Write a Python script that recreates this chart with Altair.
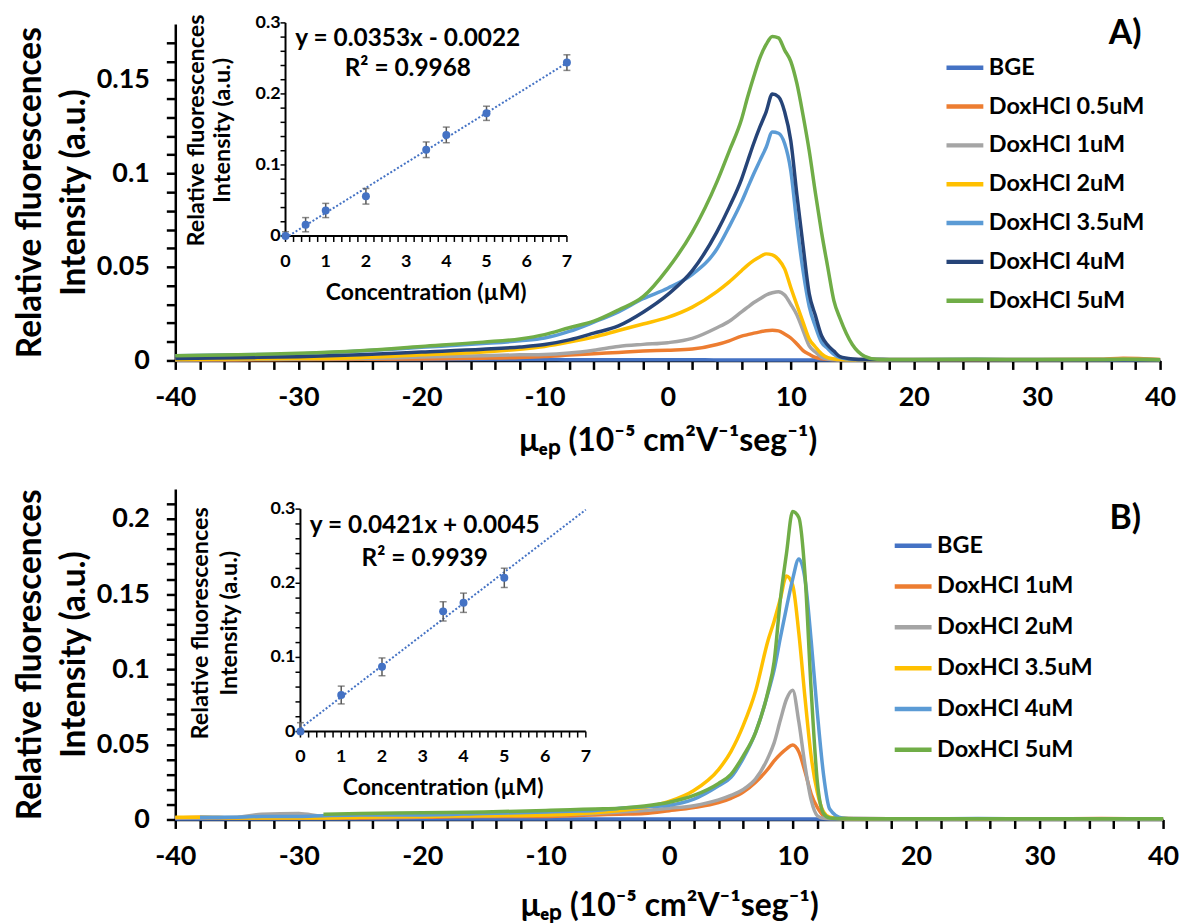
import altair as alt
import pandas as pd

FONT = "Lato"
BLUE = "#4472C4"
X_TITLE = "μₑₚ (10⁻⁵ cm²V⁻¹seg⁻¹)"
Y_TITLE = ["Relative fluorescences", "Intensity (a.u.)"]

# ---------------- Panel A : electropherograms ----------------
A_SERIES = ["BGE", "DoxHCl 0.5uM", "DoxHCl 1uM", "DoxHCl 2uM", "DoxHCl 3.5uM", "DoxHCl 4uM", "DoxHCl 5uM"]
A_COLORS = ["#4472C4", "#ED7D31", "#A5A5A5", "#FFC000", "#5B9BD5", "#264478", "#70AD47"]
A_MU = [-40, -35, -30, -25, -20, -15, -12, -10, -8, -6, -4, -2,
        0, 2, 4, 5, 6,
        6.5, 7, 7.5, 8, 8.5, 9, 9.5, 10, 10.5, 11, 11.5, 12, 12.5, 13, 13.5, 14,
        15, 16, 17, 18, 20, 25, 30, 35, 37, 40]
A_BGE = [0.0008, 0.0007, 0.0006, 0.0006, 0.0005, 0.0005, 0.0005, 0.0005, 0.0004, 0.0004, 0.0004, 0.0004,
         0.0004, 0.0004, 0.0003, 0.0003, 0.0003,
         0.0003, 0.0003, 0.0003, 0.0003, 0.0003, 0.0003, 0.0003, 0.0003, 0.0003, 0.0003, 0.0003, 0.0003, 0.0003, 0.0003, 0.0003, 0.0003,
         0.0003, 0.0003, 0.0003, 0.0003, 0.0004, 0.0004, 0.0004, 0.0004, 0.0004, 0.0004]
A_05 = [0.0002, 0.0003, 0.0005, 0.0006, 0.0008, 0.0012, 0.0016, 0.0021, 0.0029, 0.0036, 0.0043, 0.005,
        0.0055, 0.0061, 0.0085, 0.0105, 0.013,
        0.0138, 0.0146, 0.0153, 0.0159, 0.0161, 0.0158, 0.0142, 0.012, 0.0088, 0.0053, 0.0033, 0.0016, 0.0009, 0.0006, 0.0005, 0.0005,
        0.0005, 0.0005, 0.0005, 0.0005, 0.0005, 0.0005, 0.0005, 0.0006, 0.0012, 0.0005]
A_1 = [0.0003, 0.0005, 0.0008, 0.001, 0.0018, 0.0025, 0.003, 0.0032, 0.004, 0.0055, 0.0075, 0.0086,
       0.0095, 0.0118, 0.0175, 0.021, 0.026,
       0.0285, 0.031, 0.033, 0.035, 0.0362, 0.0368, 0.035, 0.030, 0.0243, 0.016, 0.0078, 0.0045, 0.0017, 0.0008, 0.0005, 0.0004,
       0.0004, 0.0004, 0.0004, 0.0004, 0.0004, 0.0004, 0.0004, 0.0004, 0.0004, 0.0004]
A_2 = [0.0005, 0.0008, 0.001, 0.0015, 0.003, 0.0045, 0.006, 0.0075, 0.0098, 0.0125, 0.016, 0.0195,
       0.023, 0.0285, 0.0368, 0.042, 0.048,
       0.051, 0.0535, 0.0555, 0.057, 0.0565, 0.054, 0.049, 0.039, 0.0296, 0.0204, 0.0115, 0.0072, 0.0035, 0.0015, 0.0008, 0.0005,
       0.0004, 0.0004, 0.0004, 0.0004, 0.0004, 0.0004, 0.0004, 0.0005, 0.0008, 0.0004]
A_35 = [0.0025, 0.003, 0.0035, 0.005, 0.007, 0.009, 0.0105, 0.012, 0.0155, 0.0205, 0.026, 0.033,
        0.0386, 0.046, 0.0596, 0.0716, 0.0848,
        0.0924, 0.100, 0.107, 0.114, 0.1222, 0.1215, 0.116, 0.1015, 0.0725, 0.0478, 0.0288, 0.0182, 0.0097, 0.0064, 0.0033, 0.0015,
        0.0006, 0.0005, 0.0005, 0.0005, 0.0005, 0.0006, 0.0005, 0.0005, 0.0005, 0.0004]
A_4 = [0.001, 0.0015, 0.002, 0.003, 0.0045, 0.006, 0.0072, 0.0085, 0.011, 0.0146, 0.0185, 0.0258,
       0.0352, 0.048, 0.0688, 0.082, 0.097,
       0.1067, 0.1163, 0.125, 0.133, 0.1425, 0.141, 0.133, 0.1175, 0.0884, 0.0612, 0.0357, 0.024, 0.0132, 0.0082, 0.005, 0.002,
       0.0008, 0.0005, 0.0005, 0.0004, 0.0004, 0.0004, 0.0004, 0.0004, 0.0004, 0.0004]
A_5 = [0.0025, 0.003, 0.0038, 0.0052, 0.0075, 0.0098, 0.0115, 0.0138, 0.0175, 0.021, 0.027, 0.0341,
       0.049, 0.0686, 0.0955, 0.112, 0.129,
       0.141, 0.152, 0.162, 0.169, 0.1733, 0.1725, 0.166, 0.160, 0.148, 0.131, 0.112, 0.0896, 0.0685, 0.050, 0.032, 0.0225,
       0.0085, 0.0022, 0.0006, 0.0005, 0.0005, 0.0006, 0.0005, 0.0005, 0.0006, 0.0004]

# ---------------- Panel B : electropherograms ----------------
B_SERIES = ["BGE", "DoxHCl 1uM", "DoxHCl 2uM", "DoxHCl 3.5uM", "DoxHCl 4uM", "DoxHCl 5uM"]
B_COLORS = ["#4472C4", "#ED7D31", "#A5A5A5", "#FFC000", "#5B9BD5", "#70AD47"]
B_MU = [-40, -38, -35, -33, -30, -28, -25, -20, -15, -10,
        -8, -6, -4, -2, 0, 2, 4, 5, 6, 7,
        8, 8.5, 9, 9.5, 10, 10.5, 11, 11.5, 12, 12.5,
        13, 14, 15, 20, 25, 30, 35, 40]
B_BGE = [0.0004, 0.0004, 0.0004, 0.0004, 0.0004, 0.0004, 0.0004, 0.0004, 0.0004, 0.0004,
         0.0004, 0.0004, 0.0004, 0.0004, 0.0004, 0.0004, 0.0004, 0.0004, 0.0004, 0.0004,
         0.0004, 0.0004, 0.0004, 0.0004, 0.0004, 0.0004, 0.0004, 0.0004, 0.0004, 0.0004,
         0.0004, 0.0004, 0.0004, 0.0004, 0.0004, 0.0004, 0.0004, 0.0004]
B_1 = [0.001, 0.0015, 0.001, 0.001, 0.001, 0.001, 0.001, 0.0015, 0.002, 0.002,
       0.0025, 0.003, 0.0035, 0.004, 0.0058, 0.0079, 0.0112, 0.0141, 0.0182, 0.0248,
       0.0336, 0.039, 0.0434, 0.047, 0.0495, 0.045, 0.032, 0.017, 0.008, 0.0025,
       0.0012, 0.0008, 0.0006, 0.0005, 0.0005, 0.0005, 0.0006, 0.0005]
B_2 = [0.001, 0.001, 0.0015, 0.0035, 0.004, 0.002, 0.0015, 0.002, 0.0025, 0.003,
       0.0035, 0.004, 0.005, 0.006, 0.0075, 0.0092, 0.013, 0.016, 0.020, 0.027,
       0.041, 0.051, 0.066, 0.080, 0.086, 0.065, 0.036, 0.013, 0.0025, 0.0008,
       0.0005, 0.0005, 0.0005, 0.0005, 0.0005, 0.0005, 0.0005, 0.0005]
B_35 = [0.0015, 0.0015, 0.001, 0.001, 0.001, 0.001, 0.0015, 0.002, 0.0025, 0.003,
        0.0035, 0.0045, 0.006, 0.008, 0.012, 0.0193, 0.0332, 0.0452, 0.0626, 0.0855,
        0.119, 0.132, 0.1467, 0.162, 0.156, 0.124, 0.081, 0.042, 0.018, 0.005,
        0.0015, 0.0006, 0.0005, 0.0005, 0.0005, 0.0005, 0.0005, 0.0005]
B_4 = [None, 0.0015, 0.0015, 0.002, 0.002, 0.0025, 0.003, 0.003, 0.004, 0.005,
       0.0055, 0.006, 0.0075, 0.0085, 0.0095, 0.0135, 0.0224, 0.028, 0.0407, 0.058,
       0.084, 0.0995, 0.1208, 0.141, 0.1598, 0.1733, 0.160, 0.119, 0.071, 0.030,
       0.007, 0.001, 0.0006, 0.0005, 0.0006, 0.0005, 0.0005, 0.0005]
B_5 = [None, None, None, None, None, 0.0035, 0.004, 0.0045, 0.005, 0.006,
       0.0065, 0.007, 0.0075, 0.009, 0.0115, 0.016, 0.024, 0.030, 0.0424, 0.058,
       0.085, 0.105, 0.146, 0.177, 0.205, 0.201, 0.163, 0.086, 0.025, 0.004,
       0.001, 0.0006, 0.0005, 0.0005, 0.0005, 0.0005, 0.0005, 0.0005]

# ---------------- Insets : calibration ----------------
A_CONC = [0, 0.5, 1, 2, 3.5, 4, 5, 7]
A_INT = [0.0, 0.0159, 0.0359, 0.0559, 0.1214, 0.1423, 0.1727, 0.2441]
A_ERR = [0.006, 0.010, 0.010, 0.011, 0.011, 0.011, 0.010, 0.011]
A_EQ = "y = 0.0353x - 0.0022\nR² = 0.9968"

B_CONC = [0, 1, 2, 3.5, 4, 5]
B_INT = [0.0, 0.0493, 0.0873, 0.1621, 0.1737, 0.2073]
B_ERR = [0.012, 0.012, 0.012, 0.013, 0.013, 0.013]
B_EQ = "y = 0.0421x + 0.0045\nR² = 0.9939"

INSET_X_TICKS = [round(0.2 * i, 1) for i in range(36)]
INSET_X_LABELS = [0, 1, 2, 3, 4, 5, 6, 7]
INSET_Y_TICKS = [round(0.02 * i, 2) for i in range(16)]
INSET_Y_LABELS = [0, 0.1, 0.2, 0.3]


def long_df(mu, names, series):
    rows = []
    for name, vals in zip(names, series):
        assert len(vals) == len(mu), name
        for m, v in zip(mu, vals):
            if v is not None:
                rows.append({"mu": m, "val": v, "series": name})
    return pd.DataFrame(rows)


def main_layers(df, names, colors, ymax, legend_x, legend_y, row_pad, tag, tag_x, tag_y, x_title_pad):
    x_axis = alt.Axis(
        values=list(range(-40, 41, 2)),
        labelExpr="datum.value % 10 == 0 ? '' + datum.value : ''",
        title=X_TITLE, labelFont=FONT, labelFontSize=27, labelFontWeight="bold", labelColor="black",
        titleFont=FONT, titleFontSize=32, titleFontWeight="bold", titleColor="black",
        domainColor="black", domainWidth=2.5, tickColor="black", tickWidth=2.5, tickSize=9,
        labelPadding=15, titlePadding=x_title_pad, labelFlush=False, labelOverlap=False, grid=False,
    )
    n = int(round(ymax / 0.01))
    y_axis = alt.Axis(
        values=[round(0.01 * i, 2) for i in range(n)],
        labelExpr="round(datum.value*100) % 5 == 0 ? format(datum.value, '~g') : ''",
        title=Y_TITLE, labelFont=FONT, labelFontSize=27, labelFontWeight="bold", labelColor="black",
        titleFont=FONT, titleFontSize=33.5, titleFontWeight="bold", titleColor="black", titleLineHeight=44,
        domainColor="black", domainWidth=2.5, tickColor="black", tickWidth=2.5, tickSize=9,
        labelPadding=17, titlePadding=5, labelOverlap=False, grid=False,
    )
    lines = alt.Chart(df).mark_line(strokeWidth=3.5, interpolate="monotone").encode(
        x=alt.X("mu:Q", scale=alt.Scale(domain=[-40, 40], nice=False, zero=False), axis=x_axis),
        y=alt.Y("val:Q", scale=alt.Scale(domain=[0, ymax], nice=False), axis=y_axis),
        color=alt.Color(
            "series:N", sort=names, scale=alt.Scale(domain=names, range=colors),
            legend=alt.Legend(
                orient="none", legendX=legend_x, legendY=legend_y, title=None,
                symbolType="stroke", symbolSize=1369, symbolStrokeWidth=4.5,
                labelFont=FONT, labelFontSize=23.5, labelFontWeight="bold", labelColor="black",
                labelOffset=3, rowPadding=row_pad, padding=0,
            ),
        ),
    )
    tag_mark = alt.Chart(pd.DataFrame({"t": [tag]})).mark_text(
        font=FONT, fontSize=34, fontWeight="bold", color="black", align="center", baseline="middle"
    ).encode(x=alt.value(tag_x), y=alt.value(tag_y), text="t:N")
    return lines, tag_mark


def inset_layer(conc, inten, err, eq, x_range, y_range, eq_x, eq_y, eq_lh, yt_x, yt_y, yt_lh):
    lo = [max(0.0, v - e) for v, e in zip(inten, err)]
    hi = [v + e for v, e in zip(inten, err)]
    df = pd.DataFrame({"conc": conc, "int": inten, "lo": lo, "hi": hi})
    xs = alt.Scale(domain=[0, 7], range=x_range, nice=False, zero=False)
    ys = alt.Scale(domain=[0, 0.3], range=y_range, nice=False)

    def X(f):
        return alt.X(f, scale=xs, axis=None)

    def Y(f):
        return alt.Y(f, scale=ys, axis=None)

    frame = pd.DataFrame({"x0": [0.0], "x1": [7.0], "y0": [0.0], "y1": [0.3]})
    xt = pd.DataFrame({"v": INSET_X_TICKS, "z": 0.0})
    yt = pd.DataFrame({"v": INSET_Y_TICKS, "z": 0.0})
    xl = pd.DataFrame({"v": INSET_X_LABELS, "z": 0.0, "t": [str(v) for v in INSET_X_LABELS]})
    yl = pd.DataFrame({"v": INSET_Y_LABELS, "z": 0.0, "t": [str(v) for v in INSET_Y_LABELS]})
    xtitle = pd.DataFrame({"x": [3.5], "y": [0.0], "t": ["Concentration (µM)"]})
    txt = dict(font=FONT, fontWeight="bold", color="black")

    x_dom = alt.Chart(frame).mark_rule(color="black", strokeWidth=2).encode(x=X("x0:Q"), x2="x1:Q", y=Y("y0:Q"))
    y_dom = alt.Chart(frame).mark_rule(color="black", strokeWidth=2).encode(x=X("x0:Q"), y=Y("y0:Q"), y2="y1:Q")
    x_ticks = alt.Chart(xt).mark_tick(orient="vertical", size=6, thickness=1.5, color="black", yOffset=3, opacity=1).encode(
        x=X("v:Q"), y=Y("z:Q"))
    y_ticks = alt.Chart(yt).mark_tick(orient="horizontal", size=5, thickness=1.5, color="black", xOffset=-2.5, opacity=1).encode(
        x=X("z:Q"), y=Y("v:Q"))
    x_lab = alt.Chart(xl).mark_text(fontSize=18, baseline="middle", dy=26, **txt).encode(
        x=X("v:Q"), y=Y("z:Q"), text="t:N")
    y_lab = alt.Chart(yl).mark_text(fontSize=18, align="right", baseline="middle", dx=-5, **txt).encode(
        x=X("z:Q"), y=Y("v:Q"), text="t:N")
    x_tit = alt.Chart(xtitle).mark_text(fontSize=23, baseline="middle", dy=57, **txt).encode(
        x=X("x:Q"), y=Y("y:Q"), text="t:N")
    y_tit = alt.Chart(pd.DataFrame({"t": ["\n".join(Y_TITLE)]})).mark_text(
        fontSize=23.5, angle=270, align="center", baseline="middle", lineBreak="\n", lineHeight=yt_lh, **txt
    ).encode(x=alt.value(yt_x), y=alt.value(yt_y), text="t:N")

    base = alt.Chart(df)
    trend = base.transform_regression("conc", "int", extent=[0, 7]).mark_line(
        color=BLUE, strokeDash=[2, 2], strokeWidth=2
    ).encode(x=X("conc:Q"), y=Y("int:Q"))
    bars = base.mark_errorbar(ticks=True, size=7, thickness=1.5, color="#595959").encode(
        x=X("conc:Q"), y=Y("lo:Q"), y2="hi:Q")
    pts = base.mark_circle(size=64, color=BLUE, opacity=1).encode(x=X("conc:Q"), y=Y("int:Q"))
    eq_mark = alt.Chart(pd.DataFrame({"t": [eq]})).mark_text(
        fontSize=24.5, align="center", baseline="middle", lineBreak="\n", lineHeight=eq_lh, **txt
    ).encode(x=alt.value(eq_x), y=alt.value(eq_y), text="t:N")
    return alt.layer(x_dom, y_dom, x_ticks, y_ticks, x_lab, y_lab, x_tit, y_tit, trend, bars, pts, eq_mark)


df_a = long_df(A_MU, A_SERIES, [A_BGE, A_05, A_1, A_2, A_35, A_4, A_5])
df_b = long_df(B_MU, B_SERIES, [B_BGE, B_1, B_2, B_35, B_4, B_5])

lines_a, tag_a = main_layers(df_a, A_SERIES, A_COLORS, 0.18, 772, 23, 6, "A)", 954, 10, 15)
inset_a = inset_layer(A_CONC, A_INT, A_ERR, A_EQ, [110.7, 393.3], [213, -1], 233.5, 15, 30, 21.5, 107, 26.5)
panel_a = alt.layer(lines_a, tag_a, inset_a).resolve_scale(x="independent", y="independent").properties(
    width=989, height=338
)

lines_b, tag_b = main_layers(df_b, B_SERIES, B_COLORS, 0.22, 720, 36, 8, "B)", 954, 30, 21)
inset_b = inset_layer(B_CONC, B_INT, B_ERR, B_EQ, [125.7, 412.3], [243.7, 20.3], 250.5, 37, 33, 26, 135, 29)
panel_b = alt.layer(lines_b, tag_b, inset_b).resolve_scale(x="independent", y="independent").properties(
    width=992, height=332
)

chart = alt.vconcat(panel_a, panel_b, spacing=32).resolve_scale(color="independent").properties(
    padding={"left": 5, "top": 4, "right": 0, "bottom": 0}
).configure(font=FONT).configure_view(stroke=None)

chart.save("out.html", embed_options={"renderer": "svg", "actions": False})
